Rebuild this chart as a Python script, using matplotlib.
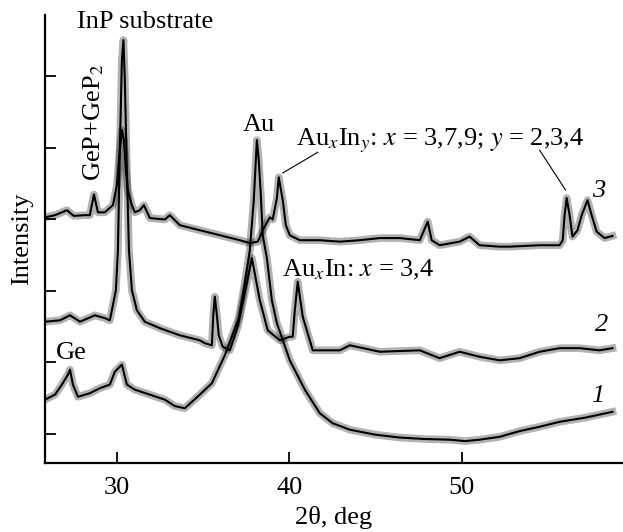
import matplotlib
matplotlib.use('Agg')
import matplotlib.pyplot as plt

plt.rcParams['font.family'] = ['Liberation Serif', 'DejaVu Serif']
plt.rcParams['mathtext.fontset'] = 'stix'

# curve 3 (top)
two_theta_3 = [25.83, 26.41, 27.10, 27.50, 28.10, 28.43, 28.67, 28.90, 29.30, 29.77,
               30.00, 30.17, 30.29, 30.41, 30.52, 30.64, 30.87, 31.04, 31.33, 31.57,
               31.91, 32.78, 33.07, 33.65, 34.81, 35.97, 37.13, 37.71, 38.17, 38.46,
               38.87, 39.04, 39.28, 39.39, 39.62, 39.80, 40.03, 40.61, 41.77, 42.93,
               44.09, 45.25, 46.41, 47.57, 48.03, 48.26, 48.72, 49.88, 50.46, 51.04,
               52.20, 52.78, 54.52, 55.68, 55.86, 55.97, 56.09, 56.26, 56.43, 56.72,
               56.96, 57.30, 57.54, 57.83, 58.29, 58.75]
intensity_3 = [4.03, 4.06, 4.13, 4.05, 4.06, 4.06, 4.35, 4.10, 4.10, 4.20,
               4.48, 4.97, 5.25, 5.11, 4.69, 4.41, 4.20, 4.10, 4.13, 4.20,
               4.02, 4.00, 4.06, 3.92, 3.85, 3.78, 3.71, 3.67, 3.69, 3.85,
               4.03, 4.00, 4.30, 4.59, 4.27, 3.92, 3.78, 3.71, 3.71, 3.69,
               3.71, 3.74, 3.74, 3.71, 3.97, 3.71, 3.64, 3.69, 3.76, 3.64,
               3.62, 3.62, 3.64, 3.64, 3.71, 4.06, 4.30, 4.06, 3.76, 3.85,
               4.06, 4.27, 4.06, 3.83, 3.74, 3.77]

# curve 2 (middle)
two_theta_2 = [25.83, 26.70, 27.28, 27.86, 28.72, 29.30, 29.59, 29.77, 29.94, 30.06,
               30.17, 30.29, 30.38, 30.46, 30.58, 30.70, 30.87, 31.16, 31.62, 32.49,
               33.65, 34.81, 35.10, 35.51, 35.59, 35.68, 35.80, 35.91, 36.14, 36.55,
               37.01, 37.42, 37.83, 38.29, 38.75, 39.45, 40.03, 40.20, 40.32, 40.49,
               40.78, 41.19, 41.36, 42.93, 43.51, 45.25, 47.57, 48.72, 49.88, 51.04,
               52.20, 53.36, 54.52, 55.68, 56.84, 58.00, 58.75]
intensity_2 = [2.57, 2.59, 2.66, 2.57, 2.66, 2.62, 2.59, 2.80, 3.01, 3.57,
               4.97, 6.23, 6.51, 5.95, 4.69, 3.57, 3.01, 2.73, 2.57, 2.48,
               2.38, 2.31, 2.27, 2.24, 2.66, 2.92, 2.66, 2.38, 2.22, 2.17,
               2.50, 2.97, 3.46, 2.87, 2.45, 2.31, 2.36, 2.36, 2.73, 3.13,
               2.64, 2.31, 2.17, 2.17, 2.24, 2.15, 2.17, 2.06, 2.15, 2.08,
               2.03, 2.06, 2.15, 2.20, 2.20, 2.17, 2.20]

# curve 1 (bottom)
two_theta_1 = [25.83, 26.41, 26.81, 27.16, 27.28, 27.45, 27.74, 28.43, 29.01, 29.59,
               29.88, 30.29, 30.58, 31.04, 31.91, 32.78, 33.36, 33.94, 34.81, 35.51,
               36.26, 37.07, 37.42, 37.71, 37.94, 38.06, 38.12, 38.23, 38.35, 38.46,
               38.70, 38.99, 39.28, 40.03, 40.90, 41.77, 42.52, 43.51, 45.00, 46.41,
               47.80, 49.30, 50.20, 51.04, 52.20, 53.36, 54.50, 55.68, 57.20, 58.75]
intensity_1 = [1.48, 1.55, 1.69, 1.83, 1.90, 1.69, 1.52, 1.57, 1.64, 1.69,
               1.87, 1.97, 1.69, 1.62, 1.55, 1.48, 1.39, 1.36, 1.55, 1.71,
               2.10, 2.62, 3.11, 3.57, 4.27, 4.83, 5.11, 4.83, 4.34, 3.78,
               3.46, 2.87, 2.55, 2.03, 1.62, 1.29, 1.15, 1.06, 0.99, 0.95,
               0.93, 0.92, 0.90, 0.92, 0.96, 1.04, 1.10, 1.17, 1.23, 1.31]

curves = [(two_theta_1, intensity_1), (two_theta_2, intensity_2), (two_theta_3, intensity_3)]

fig = plt.figure(figsize=(6.23, 5.32), dpi=100)
ax = fig.add_axes([45 / 623, 69 / 532, 577 / 623, 448 / 532])

for tt, inten in curves:
    # noisy band look: wide faint stroke + thin dark core
    ax.plot(tt, inten, color='black', lw=5.5, alpha=0.3, solid_joinstyle='round')
    ax.plot(tt, inten, color='black', lw=1.5)

ax.set_xlim(25.83, 59.3)
ax.set_ylim(0.594, 6.86)
ax.set_xticks([30, 40, 50])
ax.set_yticks([1, 2, 3, 4, 5, 6])
ax.set_yticklabels([])
ax.tick_params(direction='in', length=8, width=1.3, labelsize=19, pad=8)
ax.tick_params(axis='x', pad=10)
for side in ['top', 'right']:
    ax.spines[side].set_visible(False)
for side in ['left', 'bottom']:
    ax.spines[side].set_linewidth(1.6)

ax.set_xlabel('2θ, deg', fontsize=19, labelpad=5)
ax.set_ylabel('Intensity', fontsize=19)
ax.yaxis.set_label_coords(-0.02, 0.5)

# annotations
ax.text(31.62, 6.76, 'InP substrate', fontsize=19, ha='center', va='center')
ax.text(28.67, 5.36, 'GeP+GeP$_2$', fontsize=19, rotation=90, ha='center', va='center')
ax.text(38.23, 5.32, 'Au', fontsize=19, ha='center', va='center')
ax.text(40.40, 5.04, r'Au$_x$In$_y$: $x$ = 3,7,9; $y$ = 2,3,4', fontsize=19,
        ha='left', va='baseline')
ax.plot([39.62, 41.65], [4.65, 4.94], color='black', lw=0.8)
ax.plot([54.52, 56.03], [4.97, 4.41], color='black', lw=0.8)
ax.text(39.57, 3.20, r'Au$_x$In: $x$ = 3,4', fontsize=19, ha='left', va='baseline')
ax.text(27.33, 2.13, 'Ge', fontsize=19, ha='center', va='center')
ax.text(57.94, 4.40, '3', fontsize=19, style='italic', ha='center', va='center')
ax.text(58.12, 2.52, '2', fontsize=19, style='italic', ha='center', va='center')
ax.text(57.88, 1.53, '1', fontsize=19, style='italic', ha='center', va='center')

plt.savefig('out.png', dpi=100, facecolor='white')
